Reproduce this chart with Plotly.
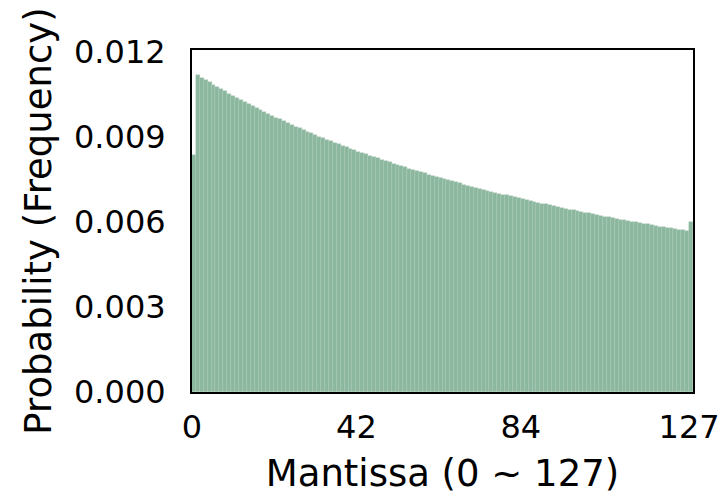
import plotly.graph_objects as go

mantissa = list(range(128))
probability = [
    0.00836, 0.011184, 0.011098, 0.011013, 0.010930, 0.010847, 0.010766, 0.010687,
    0.010608, 0.010531, 0.010454, 0.010379, 0.010305, 0.010232, 0.010160, 0.010089,
    0.010019, 0.009950, 0.009882, 0.009814, 0.009748, 0.009683, 0.009618, 0.009554,
    0.009491, 0.009429, 0.009368, 0.009308, 0.009248, 0.009189, 0.009131, 0.009074,
    0.009017, 0.008961, 0.008906, 0.008851, 0.008797, 0.008744, 0.008691, 0.008639,
    0.008588, 0.008537, 0.008486, 0.008437, 0.008388, 0.008339, 0.008291, 0.008244,
    0.008197, 0.008151, 0.008105, 0.008060, 0.008015, 0.007971, 0.007927, 0.007884,
    0.007841, 0.007798, 0.007756, 0.007715, 0.007674, 0.007633, 0.007593, 0.007553,
    0.007514, 0.007475, 0.007437, 0.007398, 0.007361, 0.007323, 0.007286, 0.007250,
    0.007214, 0.007178, 0.007142, 0.007107, 0.007072, 0.007038, 0.007003, 0.006970,
    0.006936, 0.006903, 0.006870, 0.006837, 0.006805, 0.006773, 0.006742, 0.006710,
    0.006679, 0.006648, 0.006618, 0.006588, 0.006558, 0.006528, 0.006499, 0.006470,
    0.006441, 0.006412, 0.006384, 0.006356, 0.006328, 0.006300, 0.006273, 0.006245,
    0.006219, 0.006192, 0.006165, 0.006139, 0.006113, 0.006087, 0.006062, 0.006036,
    0.006011, 0.005986, 0.005962, 0.005937, 0.005913, 0.005889, 0.005865, 0.005841,
    0.005817, 0.005794, 0.005771, 0.005748, 0.005725, 0.005702, 0.005680, 0.006000,
]
x_ticks = [0, 42, 84, 127]
y_ticks = [0.000, 0.003, 0.006, 0.009, 0.012]
y_tick_labels = ["0.000", "0.003", "0.006", "0.009", "0.012"]

fig = go.Figure(go.Bar(
    x=mantissa, y=probability, offset=0, width=1,
    marker=dict(color="rgb(139,183,158)", line=dict(color="rgb(175,204,186)", width=0.4)),
))

tick_font = dict(family="DejaVu Sans", size=32, color="black")
xtitle_font = dict(family="DejaVu Sans", size=37, color="black")
ytitle_font = dict(family="DejaVu Sans", size=37, color="black")
fig.update_layout(
    width=718, height=488,
    margin=dict(l=184, r=33, t=42, b=104),
    paper_bgcolor="white", plot_bgcolor="white",
    showlegend=False, bargap=0,
    font=tick_font,
)
fig.update_xaxes(
    range=[0, 128], tickvals=x_ticks, ticktext=[str(v) for v in x_ticks],
    showgrid=False, zeroline=False, showline=True, mirror=True, automargin=False,
    linecolor="black", linewidth=2, ticks="outside", ticklen=6, tickcolor="rgba(0,0,0,0)",
    tickfont=tick_font, title=dict(text="Mantissa (0 ~ 127)", font=xtitle_font, standoff=15),
)
fig.update_yaxes(
    range=[0, 0.01207], tickvals=y_ticks, ticktext=y_tick_labels,
    showgrid=False, zeroline=False, showline=True, mirror=True, automargin=False,
    linecolor="black", linewidth=2, ticks="outside", ticklen=18, tickcolor="rgba(0,0,0,0)",
    tickfont=tick_font, title=dict(text="Probability (Frequency)", font=ytitle_font, standoff=11),
)

fig.write_html("out.html")
